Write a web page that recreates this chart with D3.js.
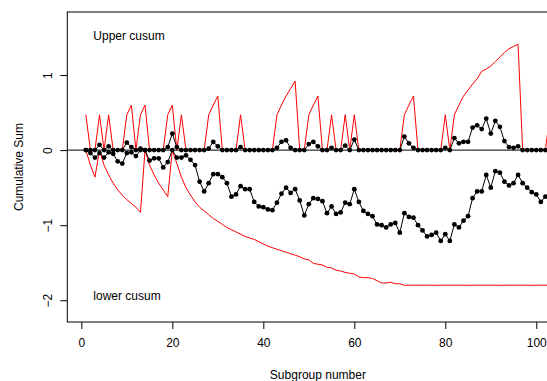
<!DOCTYPE html>
<html>
<head>
<meta charset="utf-8">
<script src="https://cdn.jsdelivr.net/npm/d3@7"></script>
<style>
  body { margin: 0; background: #fff; }
  svg { display: block; font-family: "Liberation Sans", Arial, Helvetica, sans-serif; }
</style>
</head>
<body>
<div id="chart"></div>
<script>
// subgroup numbers 1..103
const subgroups = d3.range(1, 104);

// upper red line (spikes above zero)
const upperRed = [
  0.47, 0, 0, 0.47, 0, 0.47, 0, 0, 0, 0.47,
  0.6, 0, 0.47, 0.6, 0, 0, 0, 0, 0.47, 0.6,
  0, 0.47, 0, 0, 0, 0, 0, 0.47, 0.6, 0.72,
  0, 0, 0, 0, 0.47, 0, 0, 0, 0, 0,
  0, 0, 0.47, 0.6, 0.72, 0.82, 0.92, 0, 0, 0.47,
  0.6, 0.72, 0, 0, 0.47, 0, 0, 0.47, 0, 0.47,
  0, 0, 0, 0, 0, 0, 0, 0, 0, 0,
  0.47, 0.6, 0.72, 0, 0, 0, 0, 0, 0, 0.47,
  0, 0.47, 0.6, 0.72, 0.8, 0.88, 0.95, 1.05, 1.08, 1.12,
  1.18, 1.24, 1.3, 1.35, 1.38, 1.41, 0, 0, 0, 0,
  0, 0, 0.47
];

// lower red line (below zero)
const lowerRed = [
  0, -0.2, -0.36, 0, -0.2, -0.33, -0.44, -0.53, -0.6, -0.66,
  -0.71, -0.76, -0.83, 0, -0.2, -0.33, -0.44, -0.53, -0.62, 0,
  -0.18, -0.36, -0.5, -0.6, -0.69, -0.76, -0.81, -0.86, -0.91, -0.95,
  -0.99, -1.03, -1.06, -1.09, -1.12, -1.15, -1.17, -1.19, -1.22, -1.25,
  -1.28, -1.3, -1.32, -1.34, -1.36, -1.38, -1.4, -1.42, -1.45, -1.46,
  -1.51, -1.52, -1.53, -1.56, -1.57, -1.6, -1.61, -1.63, -1.64, -1.65,
  -1.69, -1.7, -1.7, -1.71, -1.74, -1.77, -1.77, -1.76, -1.78, -1.78,
  -1.8, -1.8, -1.8, -1.8, -1.8, -1.8, -1.8, -1.8, -1.8, -1.8,
  -1.8, -1.8, -1.8, -1.8, -1.8, -1.8, -1.8, -1.8, -1.8, -1.8,
  -1.8, -1.8, -1.8, -1.8, -1.8, -1.8, -1.8, -1.8, -1.8, -1.8,
  -1.8, -1.8, -1.8
];

// upper cusum (black points)
const upperCusum = [
  0, 0, 0, 0.07, 0, 0.05, 0, 0, 0, 0.1,
  0.04, 0, 0.02, 0, 0, 0, 0, 0, 0.04, 0.22,
  0.04, 0, 0, 0, 0, 0, 0, 0.02, 0.11, 0.05,
  0, 0, 0, 0, 0.04, 0, 0, 0, 0, 0,
  0, 0, 0.03, 0.11, 0.13, 0.03, 0, 0, 0, 0.08,
  0.11, 0.05, 0, 0, 0.03, 0, 0, 0.06, 0, 0.14,
  0, 0, 0, 0, 0, 0, 0, 0, 0, 0,
  0.18, 0.09, 0.03, 0, 0, 0, 0, 0, 0, 0.03,
  0, 0.16, 0.09, 0.11, 0.11, 0.3, 0.33, 0.28, 0.42, 0.22,
  0.39, 0.31, 0.12, 0.04, 0.03, 0.05, 0, 0, 0, 0,
  0, 0, 0
];

// lower cusum (black points)
const lowerCusum = [
  0, -0.04, -0.1, -0.04, -0.1, -0.03, -0.05, -0.15, -0.18, -0.04,
  -0.03, -0.08, 0, 0, -0.14, -0.11, -0.11, -0.23, -0.16, 0,
  -0.1, -0.1, -0.07, -0.13, -0.2, -0.42, -0.55, -0.44, -0.32, -0.32,
  -0.36, -0.44, -0.62, -0.59, -0.48, -0.52, -0.52, -0.69, -0.75, -0.76,
  -0.79, -0.8, -0.7, -0.58, -0.5, -0.57, -0.52, -0.67, -0.87, -0.72,
  -0.64, -0.65, -0.68, -0.84, -0.75, -0.85, -0.83, -0.7, -0.72, -0.52,
  -0.69, -0.81, -0.85, -0.88, -0.99, -1.0, -1.03, -0.99, -0.97, -1.1,
  -0.84, -0.89, -0.9, -1.0, -1.07, -1.15, -1.13, -1.1, -1.21, -1.12,
  -1.21, -0.99, -1.03, -0.94, -0.88, -0.64, -0.55, -0.55, -0.33, -0.5,
  -0.28, -0.3, -0.42, -0.47, -0.44, -0.33, -0.44, -0.5, -0.56, -0.59,
  -0.69, -0.62, -0.55
];

const xTicks = [0, 20, 40, 60, 80, 100];
const yTicks = [-2, -1, 0, 1];

const width = 547, height = 381;
// plot box (right side runs past the window, as in the reference)
const box = { left: 67.3, right: 568.5, top: 12, bottom: 322 };

const svg = d3.select('#chart').append('svg')
  .attr('width', width)
  .attr('height', height);

// R-style 4% padding around 1..103
const pad = 0.04 * (103 - 1);
const x = d3.scaleLinear()
  .domain([1 - pad, 103 + pad])
  .range([box.left, box.right]);

const y = d3.scaleLinear()
  .domain([-2.29, 1.84])
  .range([box.bottom, box.top]);

const plot = svg.append('g');

const line = (vals) => d3.line()
  .x((d, i) => x(subgroups[i]))
  .y(d => y(d))(vals);

// red lines
[upperRed, lowerRed].forEach(vals => {
  plot.append('path')
    .attr('d', line(vals))
    .attr('fill', 'none')
    .attr('stroke', '#ff0000')
    .attr('stroke-width', 1);
});

// zero reference line
plot.append('line')
  .attr('x1', box.left).attr('x2', box.right)
  .attr('y1', y(0)).attr('y2', y(0))
  .attr('stroke', '#000')
  .attr('stroke-width', 1);

// black cusum series with points
[upperCusum, lowerCusum].forEach(vals => {
  plot.append('path')
    .attr('d', line(vals))
    .attr('fill', 'none')
    .attr('stroke', '#000')
    .attr('stroke-width', 1);

  plot.append('g').selectAll('circle')
    .data(vals)
    .enter().append('circle')
    .attr('cx', (d, i) => x(subgroups[i]))
    .attr('cy', d => y(d))
    .attr('r', 2.4)
    .attr('fill', '#000');
});

// box
svg.append('rect')
  .attr('x', box.left).attr('y', box.top)
  .attr('width', box.right - box.left)
  .attr('height', box.bottom - box.top)
  .attr('fill', 'none')
  .attr('stroke', '#000')
  .attr('stroke-width', 1);

// x axis
const xAxis = svg.append('g')
  .attr('transform', `translate(0,${box.bottom})`)
  .call(d3.axisBottom(x).tickValues(xTicks).tickSize(7).tickPadding(9));
xAxis.select('.domain').remove();
xAxis.selectAll('text').attr('font-size', 12).attr('fill', '#000')
  .attr('font-family', '"Liberation Sans", Arial, sans-serif');

// y axis, labels turned like R's default
const yAxis = svg.append('g')
  .attr('transform', `translate(${box.left},0)`)
  .call(d3.axisLeft(y).tickValues(yTicks).tickSize(7).tickFormat(d3.format('d')));
yAxis.select('.domain').remove();
yAxis.selectAll('text')
  .attr('font-size', 12).attr('fill', '#000')
  .attr('font-family', '"Liberation Sans", Arial, sans-serif')
  .attr('x', null).attr('dy', null)
  .attr('text-anchor', 'middle')
  .attr('transform', 'translate(-15,0) rotate(-90)');

// titles
svg.append('text')
  .attr('x', (box.left + box.right) / 2)
  .attr('y', 379)
  .attr('text-anchor', 'middle')
  .attr('font-size', 12)
  .text('Subgroup number');

svg.append('text')
  .attr('transform', `translate(23,${(box.top + box.bottom) / 2}) rotate(-90)`)
  .attr('text-anchor', 'middle')
  .attr('font-size', 12)
  .text('Cumulative Sum');

svg.append('text')
  .attr('x', 93.3).attr('y', 39.5)
  .attr('font-size', 12)
  .text('Upper cusum');

svg.append('text')
  .attr('x', 93.3).attr('y', 299.5)
  .attr('font-size', 12)
  .text('lower cusum');
</script>
</body>
</html>
